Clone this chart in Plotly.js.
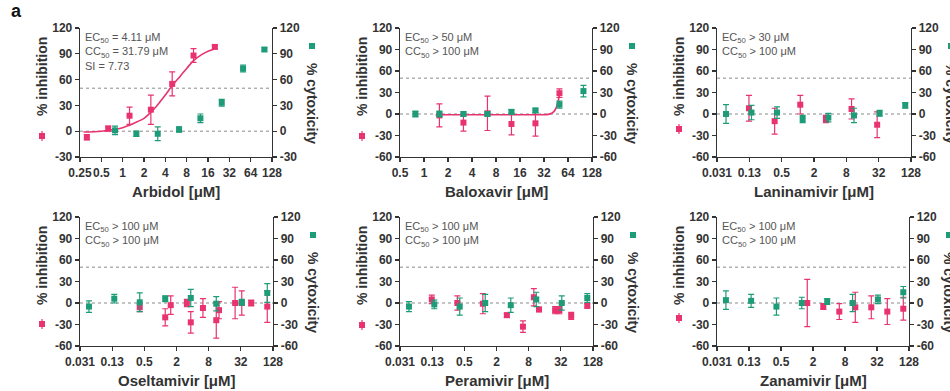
<!DOCTYPE html>
<html><head><meta charset="utf-8">
<script src="https://cdn.plot.ly/plotly-3.0.1.min.js"></script>
<style>html,body{margin:0;padding:0;background:#fff;}#chart{width:950px;height:391px;}</style>
</head><body><div id="chart"></div>
<script>
// ---------- DATA ----------
// Arbidol
const arbidolInhX = [0.3125, 0.625, 1.25, 2.5, 5, 10, 20];
const arbidolInhY = [-7, 3, 18, 25, 55, 88, 98];
const arbidolInhErr = [3, 3, 10, 17, 14, 8, 2];
const arbidolCytX = [0.78, 1.56, 3.125, 6.25, 12.5, 25, 50, 100];
const arbidolCytY = [1, -3, -3, 2, 15, 33, 73, 95];
const arbidolCytErr = [5, 3, 8, 3, 5, 4, 4, 2];
const arbidolFitX = [0.28, 0.5, 0.75, 1, 1.25, 1.6, 2, 2.5, 3, 4, 5, 6.5, 8, 10, 13, 16, 20];
const arbidolFitY = [-1, 0, 2, 4, 7, 11, 15, 22, 29, 42, 53, 64, 73, 82, 89, 93, 96];
const arbidolNotes = ['EC<sub>50</sub> = 4.11 μM', 'CC<sub>50</sub> = 31.79 μM', 'SI = 7.73'];

// Baloxavir
const baloxavirInhX = [1.56, 3.125, 6.25, 12.5, 25, 50];
const baloxavirInhY = [-2, -12, 1, -14, -13, 29];
const baloxavirInhErr = [16, 12, 24, 15, 18, 6];
const baloxavirCytX = [0.78, 1.56, 3.125, 6.25, 12.5, 25, 50, 100];
const baloxavirCytY = [0, 0, 0, 0, 3, 5, 13, 32];
const baloxavirCytErr = [4, 4, 3, 3, 3, 3, 5, 8];
const baloxavirFitX = [1.4, 4, 10, 25, 36, 40, 43, 46, 48, 50];
const baloxavirFitY = [-1, -1, -1, -1, -0.5, 1, 4, 10, 17, 27];
const baloxavirNotes = ['EC<sub>50</sub> > 50 μM', 'CC<sub>50</sub> > 100 μM'];

// Laninamivir
const laninamivirInhX = [0.123, 0.37, 1.11, 3.33, 10, 30];
const laninamivirInhY = [8, -10, 13, -7, 7, -15];
const laninamivirInhErr = [18, 18, 13, 5, 14, 18];
const laninamivirCytX = [0.046, 0.137, 0.41, 1.23, 3.7, 11.1, 33.3, 100];
const laninamivirCytY = [0, 2, 2, -7, -5, -2, 1, 12];
const laninamivirCytErr = [13, 10, 8, 5, 6, 10, 4, 4];
const laninamivirNotes = ['EC<sub>50</sub> > 30 μM', 'CC<sub>50</sub> > 100 μM'];

// Oseltamivir
const oseltamivirInhX = [0.41, 1.23, 1.56, 3.125, 3.7, 6.25, 11.1, 12.5, 25, 33.3, 50, 100];
const oseltamivirInhY = [-6, -20, -3, 0, -27, -7, -24, -10, 0, 0, 0, -5];
const oseltamivirInhErr = [6, 12, 13, 5, 15, 13, 25, 12, 22, 17, 4, 22];
const oseltamivirCytX = [0.046, 0.137, 0.41, 1.23, 3.7, 11.1, 33.3, 100];
const oseltamivirCytY = [-5, 6, 1, 6, 7, -1, 1, 14];
const oseltamivirCytErr = [8, 6, 13, 4, 12, 10, 4, 13];
const oseltamivirNotes = ['EC<sub>50</sub> > 100 μM', 'CC<sub>50</sub> > 100 μM'];

// Peramivir
const peramivirInhX = [0.123, 0.37, 1.11, 3.125, 6.25, 10, 12.5, 25, 30, 50, 100];
const peramivirInhY = [5, 0, -1, -17, -33, 8, -9, -10, -10, -18, -4];
const peramivirInhErr = [6, 10, 14, 3, 8, 12, 3, 5, 5, 5, 3];
const peramivirCytX = [0.046, 0.137, 0.41, 1.23, 3.7, 11.1, 33.3, 100];
const peramivirCytY = [-5, -2, -5, 0, -3, 5, 0, 7];
const peramivirCytErr = [7, 6, 12, 12, 10, 10, 10, 6];
const peramivirNotes = ['EC<sub>50</sub> > 100 μM', 'CC<sub>50</sub> > 100 μM'];

// Zanamivir
const zanamivirInhX = [1.56, 3.125, 6.25, 12.5, 25, 50, 100];
const zanamivirInhY = [0, -5, -12, -6, -6, -12, -8];
const zanamivirInhErr = [33, 4, 11, 21, 16, 18, 16];
const zanamivirCytX = [0.046, 0.137, 0.41, 1.23, 3.7, 11.1, 33.3, 100];
const zanamivirCytY = [4, 3, -5, 0, 2, 0, 5, 15];
const zanamivirCytErr = [13, 9, 12, 8, 4, 12, 6, 8];
const zanamivirNotes = ['EC<sub>50</sub> > 100 μM', 'CC<sub>50</sub> > 100 μM'];

// Ticks
const ticksArbidolX = [0.25, 0.5, 1, 2, 4, 8, 16, 32, 64, 128];
const ticksArbidolXText = ['0.25', '0.5', '1', '2', '4', '8', '16', '32', '64', '128'];
const ticksBaloxavirX = [0.5, 1, 2, 4, 8, 16, 32, 64, 128];
const ticksBaloxavirXText = ['0.5', '1', '2', '4', '8', '16', '32', '64', '128'];
const ticksNaiX = [0.03125, 0.125, 0.5, 2, 8, 32, 128];
const ticksNaiXText = ['0.031', '0.13', '0.5', '2', '8', '32', '128'];
const ticksY30 = [-30, 0, 30, 60, 90, 120];
const ticksY30Text = ['-30', '0', '30', '60', '90', '120'];
const ticksY60 = [-60, -30, 0, 30, 60, 90, 120];
const ticksY60Text = ['-60', '-30', '0', '30', '60', '90', '120'];

const yTitleLeft = '% inhibition';
const yTitleRight = '% cytoxicity';

// ---------- PANELS ----------
const panels = [
  {name: 'Arbidol', inhX: arbidolInhX, inhY: arbidolInhY, inhE: arbidolInhErr, cytX: arbidolCytX, cytY: arbidolCytY, cytE: arbidolCytErr, fitX: arbidolFitX, fitY: arbidolFitY, notes: arbidolNotes, xt: ticksArbidolX, xtt: ticksArbidolXText, yt: ticksY30, ytt: ticksY30Text},
  {name: 'Baloxavir', inhX: baloxavirInhX, inhY: baloxavirInhY, inhE: baloxavirInhErr, cytX: baloxavirCytX, cytY: baloxavirCytY, cytE: baloxavirCytErr, fitX: baloxavirFitX, fitY: baloxavirFitY, notes: baloxavirNotes, xt: ticksBaloxavirX, xtt: ticksBaloxavirXText, yt: ticksY60, ytt: ticksY60Text},
  {name: 'Laninamivir', inhX: laninamivirInhX, inhY: laninamivirInhY, inhE: laninamivirInhErr, cytX: laninamivirCytX, cytY: laninamivirCytY, cytE: laninamivirCytErr, notes: laninamivirNotes, xt: ticksNaiX, xtt: ticksNaiXText, yt: ticksY60, ytt: ticksY60Text},
  {name: 'Oseltamivir', inhX: oseltamivirInhX, inhY: oseltamivirInhY, inhE: oseltamivirInhErr, cytX: oseltamivirCytX, cytY: oseltamivirCytY, cytE: oseltamivirCytErr, notes: oseltamivirNotes, xt: ticksNaiX, xtt: ticksNaiXText, yt: ticksY60, ytt: ticksY60Text},
  {name: 'Peramivir', inhX: peramivirInhX, inhY: peramivirInhY, inhE: peramivirInhErr, cytX: peramivirCytX, cytY: peramivirCytY, cytE: peramivirCytErr, notes: peramivirNotes, xt: ticksNaiX, xtt: ticksNaiXText, yt: ticksY60, ytt: ticksY60Text},
  {name: 'Zanamivir', inhX: zanamivirInhX, inhY: zanamivirInhY, inhE: zanamivirInhErr, cytX: zanamivirCytX, cytY: zanamivirCytY, cytE: zanamivirCytErr, notes: zanamivirNotes, xt: ticksNaiX, xtt: ticksNaiXText, yt: ticksY60, ytt: ticksY60Text}
];

// pixel boxes of plot areas (layout only)
const boxes = [
  {L: 80, R: 272, T: 28, B: 157, redLeg: 108},
  {L: 400, R: 592, T: 28, B: 157, redLeg: 108},
  {L: 717, R: 911, T: 28, B: 157, redLeg: 101},
  {L: 80, R: 273, T: 217, B: 346, redLeg: 107},
  {L: 400, R: 593, T: 217, B: 346, redLeg: 108},
  {L: 717, R: 909, T: 217, B: 346, redLeg: 101}
];

const W = 950, H = 391;
const RED = '#E8336F', GREEN = '#1E9B78', AX = '#333333';
const FONT = 'Liberation Sans, Arial, sans-serif';
const px = p => p / W;
const py = p => 1 - p / H;

const traces = [];
const layout = {
  width: W, height: H,
  margin: {l: 0, r: 0, t: 0, b: 0, pad: 0},
  paper_bgcolor: '#fff', plot_bgcolor: '#fff',
  showlegend: false,
  font: {family: FONT, color: AX},
  annotations: [], shapes: []
};

panels.forEach((p, i) => {
  const b = boxes[i];
  const xa = i === 0 ? 'x' : 'x' + (i + 1);
  const yl = i === 0 ? 'y' : 'y' + (i + 1);
  const yr = 'y' + (i + 7);
  const yRange = [p.yt[0], p.yt[p.yt.length - 1]];
  const xRange = [Math.log10(p.xt[0]), Math.log10(p.xt[p.xt.length - 1])];

  traces.push({
    x: p.cytX, y: p.cytY, xaxis: xa, yaxis: yr, type: 'scatter', mode: 'markers',
    marker: {symbol: 'square', size: 6, color: GREEN},
    error_y: {type: 'data', array: p.cytE, visible: true, color: GREEN, thickness: 1.2, width: 3},
    cliponaxis: false, hoverinfo: 'skip'
  });
  traces.push({
    x: p.inhX, y: p.inhY, xaxis: xa, yaxis: yl, type: 'scatter', mode: 'markers',
    marker: {symbol: 'square', size: 6, color: RED},
    error_y: {type: 'data', array: p.inhE, visible: true, color: RED, thickness: 1.2, width: 3},
    cliponaxis: false, hoverinfo: 'skip'
  });
  if (p.fitX) {
    traces.push({
      x: p.fitX, y: p.fitY, xaxis: xa, yaxis: yl, type: 'scatter', mode: 'lines',
      line: {color: RED, width: 1.6, shape: 'spline'}, hoverinfo: 'skip'
    });
  }

  const tickfont = {family: FONT, size: 12, color: AX, weight: 'bold'};
  const common = {
    showgrid: false, zeroline: false, showline: true, linecolor: AX, linewidth: 1.3,
    ticks: 'outside', ticklen: 4, tickwidth: 1.3, tickcolor: AX, tickfont: tickfont,
    fixedrange: true
  };
  layout[i === 0 ? 'xaxis' : 'xaxis' + (i + 1)] = Object.assign({}, common, {
    type: 'log', range: xRange, domain: [px(b.L), px(b.R)], anchor: yl,
    tickmode: 'array', tickvals: p.xt, ticktext: p.xtt, tickangle: 0
  });
  layout[i === 0 ? 'yaxis' : 'yaxis' + (i + 1)] = Object.assign({}, common, {
    range: yRange, domain: [py(b.B), py(b.T)], anchor: xa,
    tickmode: 'array', tickvals: p.yt, ticktext: p.ytt
  });
  layout['yaxis' + (i + 7)] = Object.assign({}, common, {
    range: yRange, overlaying: yl, side: 'right', anchor: xa,
    tickmode: 'array', tickvals: p.yt, ticktext: p.ytt
  });

  // dotted reference lines at 0 and 50
  [0, 50].forEach(v => {
    layout.shapes.push({
      type: 'line', xref: xa + ' domain', yref: yl, x0: 0, x1: 1, y0: v, y1: v,
      line: {color: '#8a8a8a', width: 1, dash: 'dot'}, layer: 'below'
    });
  });

  // notes
  layout.annotations.push({
    xref: 'paper', yref: 'paper', x: px(b.L + 3), y: py(b.T + 1),
    xanchor: 'left', yanchor: 'top', align: 'left', showarrow: false,
    text: p.notes.join('<br>'), font: {family: FONT, size: 11, color: '#555'}
  });
  // x title
  layout.annotations.push({
    xref: 'paper', yref: 'paper', x: px((b.L + b.R) / 2), y: py(b.B + 34),
    xanchor: 'center', yanchor: 'middle', showarrow: false,
    text: p.name + ' [μM]', font: {family: FONT, size: 15, color: AX, weight: 'bold'}
  });
  // left y title
  layout.annotations.push({
    xref: 'paper', yref: 'paper', x: px(b.L - 38), y: py(b.T + 49),
    xanchor: 'center', yanchor: 'middle', showarrow: false, textangle: -90,
    text: yTitleLeft, font: {family: FONT, size: 14, color: AX, weight: 'bold'}
  });
  // right y title
  layout.annotations.push({
    xref: 'paper', yref: 'paper', x: px(b.R + 40), y: py(b.T + 75),
    xanchor: 'center', yanchor: 'middle', showarrow: false, textangle: 90,
    text: yTitleRight, font: {family: FONT, size: 14, color: AX, weight: 'bold'}
  });
  // legend symbols
  const rx = b.L - 38, ry = b.T + b.redLeg;
  layout.shapes.push({type: 'line', xref: 'paper', yref: 'paper', x0: px(rx), x1: px(rx), y0: py(ry - 5), y1: py(ry + 5), line: {color: RED, width: 1.2}});
  layout.shapes.push({type: 'rect', xref: 'paper', yref: 'paper', x0: px(rx - 3), x1: px(rx + 3), y0: py(ry - 3), y1: py(ry + 3), fillcolor: RED, line: {width: 0}});
  const gx = b.R + 40, gy = b.T + 18;
  layout.shapes.push({type: 'rect', xref: 'paper', yref: 'paper', x0: px(gx - 3), x1: px(gx + 3), y0: py(gy - 3), y1: py(gy + 3), fillcolor: GREEN, line: {width: 0}});
});

// panel letter
layout.annotations.push({
  xref: 'paper', yref: 'paper', x: px(16), y: py(11), xanchor: 'center', yanchor: 'middle',
  showarrow: false, text: 'a', font: {family: FONT, size: 18, color: '#111', weight: 'bold'}
});

Plotly.newPlot('chart', traces, layout, {staticPlot: true, displayModeBar: false});
</script></body></html>
